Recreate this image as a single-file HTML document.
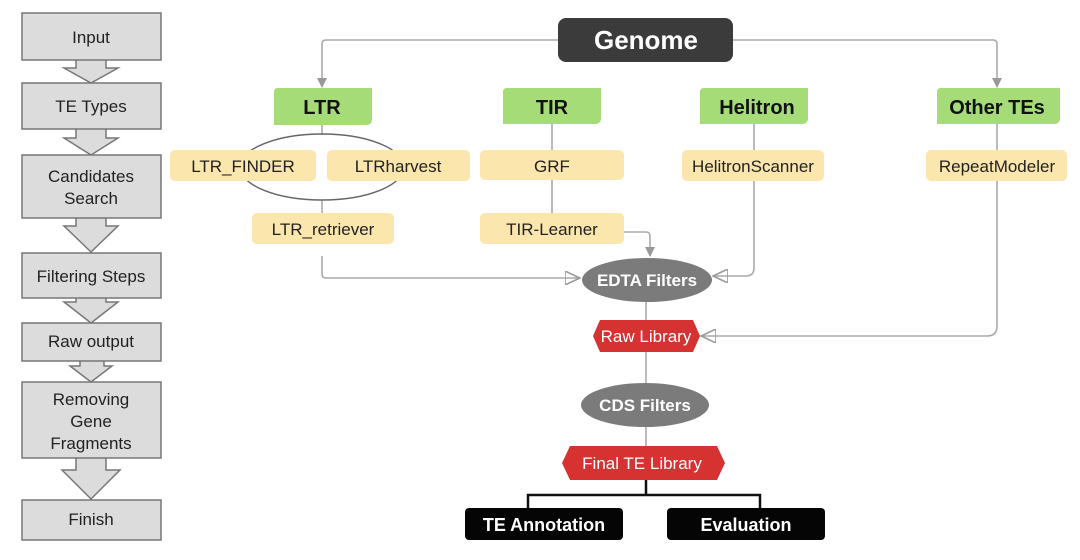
<!DOCTYPE html>
<html><head><meta charset="utf-8"><style>
body{margin:0;background:#fff}
svg{display:block;font-family:"Liberation Sans",sans-serif}
</style></head><body>
<svg width="1080" height="560" viewBox="0 0 1080 560">
<defs>
<marker id="ah" markerWidth="10" markerHeight="10" refX="9" refY="5" orient="auto" markerUnits="userSpaceOnUse">
<path d="M0,0 L10,5 L0,10 Z" fill="#999"/></marker>
<marker id="ah2" markerWidth="16" markerHeight="14" refX="15" refY="7" orient="auto" markerUnits="userSpaceOnUse">
<path d="M0,0 L15,7 L0,14 Z" fill="none" stroke="#999" stroke-width="1.6"/></marker>
</defs>

<!-- left column arrows -->
<g fill="#dcdcdc" stroke="#777" stroke-width="1.5">
<path d="M76,55 H106 V68 H118 L91,83 L64,68 H76 Z"/>
<path d="M76,125 H106 V138 H118 L91,155 L64,138 H76 Z"/>
<path d="M76,214 H106 V226 H118 L91,252 L64,226 H76 Z"/>
<path d="M76,294 H106 V302 H118 L91,323 L64,302 H76 Z"/>
<path d="M80,358 H104 V366 H112 L91,382 L70,366 H80 Z"/>
<path d="M76,454 H106 V470 H120 L91,499 L62,470 H76 Z"/>
</g>
<g fill="#dcdcdc" stroke="#777" stroke-width="1.5">
<rect x="22" y="13" width="139" height="47"/>
<rect x="22" y="83" width="139" height="46"/>
<rect x="22" y="155" width="139" height="63"/>
<rect x="22" y="253" width="139" height="45"/>
<rect x="22" y="323" width="139" height="38"/>
<rect x="22" y="382" width="139" height="76"/>
<rect x="22" y="500" width="139" height="40"/>
</g>
<g font-size="17" fill="#222" text-anchor="middle">
<text x="91" y="43">Input</text>
<text x="91" y="112">TE Types</text>
<text x="91" y="182">Candidates</text>
<text x="91" y="204">Search</text>
<text x="91" y="282">Filtering Steps</text>
<text x="91" y="347">Raw output</text>
<text x="91" y="405">Removing</text>
<text x="91" y="427">Gene</text>
<text x="91" y="449">Fragments</text>
<text x="91" y="525">Finish</text>
</g>

<!-- connectors -->
<g fill="none" stroke="#aaa" stroke-width="1.6">
<path d="M558,40 H326 Q322,40 322,44 V87" marker-end="url(#ah)"/>
<path d="M733,40 H993 Q997,40 997,44 V87" marker-end="url(#ah)"/>
<line x1="322" y1="125" x2="322" y2="135"/>
<line x1="552" y1="124" x2="552" y2="150"/>
<line x1="552" y1="180" x2="552" y2="213"/>
<line x1="754" y1="124" x2="754" y2="150"/>
<line x1="997" y1="124" x2="997" y2="150"/>
<line x1="322" y1="200" x2="322" y2="213"/>
<path d="M322,256 V274 Q322,278 326,278 H580" marker-end="url(#ah2)"/>
<path d="M624,232 H646 Q650,232 650,236 V256" marker-end="url(#ah)"/>
<path d="M754,181 V268 Q754,276 746,276 H713" marker-end="url(#ah2)"/>
<path d="M997,181 V326 Q997,336 987,336 H701" marker-end="url(#ah2)"/>
<line x1="646" y1="302" x2="646" y2="320"/>
<line x1="646" y1="352" x2="646" y2="383"/>
<line x1="646" y1="427" x2="646" y2="446"/>
<ellipse cx="322" cy="167" rx="82" ry="33" stroke="#666" stroke-width="1.4"/>
</g>

<!-- genome -->
<rect x="558" y="18" width="175" height="44" rx="8" fill="#3b3b3b"/>
<text x="646" y="49" font-size="26" font-weight="bold" fill="#fff" text-anchor="middle">Genome</text>

<!-- green type boxes -->
<g fill="#a6dc78">
<path d="M274,92 Q274,88 278,88 H372 V119 Q372,125 366,125 H274 Z"/>
<path d="M503,92 Q503,88 507,88 H601 V118 Q601,124 595,124 H503 Z"/>
<path d="M700,92 Q700,88 704,88 H808 V118 Q808,124 802,124 H700 Z"/>
<path d="M937,92 Q937,88 941,88 H1060 V118 Q1060,124 1054,124 H937 Z"/>
</g>
<g font-size="20" font-weight="bold" fill="#111" text-anchor="middle">
<text x="322" y="114">LTR</text>
<text x="552" y="114">TIR</text>
<text x="757" y="114">Helitron</text>
<text x="997" y="114">Other TEs</text>
</g>

<!-- yellow tool boxes -->
<g fill="#fbe6ad">
<rect x="170" y="150" width="146" height="31" rx="5"/>
<rect x="327" y="150" width="143" height="31" rx="5"/>
<rect x="480" y="150" width="144" height="30" rx="5"/>
<rect x="682" y="150" width="142" height="31" rx="5"/>
<rect x="926" y="150" width="141" height="31" rx="5"/>
<rect x="252" y="213" width="142" height="31" rx="5"/>
<rect x="480" y="213" width="144" height="31" rx="5"/>
</g>
<g font-size="17" fill="#222" text-anchor="middle">
<text x="243" y="172">LTR_FINDER</text>
<text x="398" y="172">LTRharvest</text>
<text x="552" y="172">GRF</text>
<text x="753" y="172">HelitronScanner</text>
<text x="997" y="172">RepeatModeler</text>
<text x="323" y="235">LTR_retriever</text>
<text x="552" y="235">TIR-Learner</text>
</g>

<!-- filters / libraries -->
<ellipse cx="647" cy="280" rx="65" ry="22" fill="#7b7b7b"/>
<text x="647" y="286" font-size="17" font-weight="bold" fill="#fff" text-anchor="middle">EDTA Filters</text>
<path d="M600,320 H693 L700,336 L693,352 H600 L593,336 Z" fill="#d63232"/>
<text x="646" y="342" font-size="17" fill="#fff" text-anchor="middle">Raw Library</text>
<ellipse cx="645" cy="405" rx="64" ry="22" fill="#7b7b7b"/>
<text x="645" y="411" font-size="17" font-weight="bold" fill="#fff" text-anchor="middle">CDS Filters</text>
<path d="M570,446 H717 L725,463 L717,480 H570 L562,463 Z" fill="#d63232"/>
<text x="642" y="469" font-size="17" fill="#fff" text-anchor="middle">Final TE Library</text>

<!-- tree -->
<path d="M646,480 V495 M528,508 V495 H760 V508" fill="none" stroke="#111" stroke-width="2.5"/>
<rect x="465" y="508" width="158" height="32" rx="4" fill="#050505"/>
<text x="544" y="531" font-size="18" font-weight="bold" fill="#fff" text-anchor="middle">TE Annotation</text>
<rect x="667" y="508" width="158" height="32" rx="4" fill="#050505"/>
<text x="746" y="531" font-size="18" font-weight="bold" fill="#fff" text-anchor="middle">Evaluation</text>
</svg>
</body></html>
